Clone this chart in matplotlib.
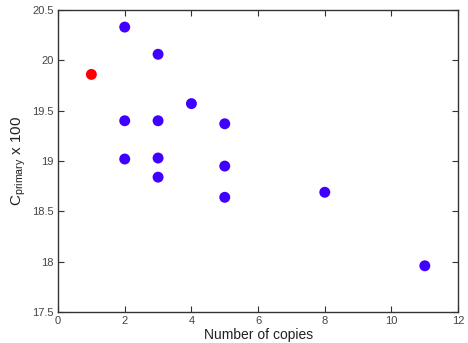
import matplotlib
matplotlib.use("Agg")
import matplotlib.pyplot as plt

plt.rcParams['font.family'] = ['Liberation Sans', 'DejaVu Sans']
plt.rcParams['mathtext.fontset'] = 'custom'
plt.rcParams['mathtext.rm'] = 'Liberation Sans'

# blue points
copies = [2, 2, 2, 3, 3, 3, 3, 4, 5, 5, 5, 8, 11]
c_primary = [20.33, 19.40, 19.02, 20.06, 19.40, 19.03, 18.84, 19.57, 19.37, 18.95, 18.64, 18.69, 17.96]
# red (single copy) point
red_copies = [1]
red_c = [19.86]

fig = plt.figure(figsize=(4.68, 3.43), dpi=100)
ax = fig.add_axes([0.124, 0.09, 0.855, 0.881])

ax.scatter(copies, c_primary, s=62, color='#4000ff', edgecolors='none', zorder=3)
ax.scatter(red_copies, red_c, s=62, color='#ff0000', edgecolors='none', zorder=3)

ax.set_xlim(0, 12)
ax.set_ylim(17.5, 20.5)
ax.set_xticks([0, 2, 4, 6, 8, 10, 12])
ax.set_yticks([17.5, 18, 18.5, 19, 19.5, 20, 20.5])
ax.set_yticklabels(['17.5', '18', '18.5', '19', '19.5', '20', '20.5'])
ax.tick_params(direction='in', top=True, right=True, length=4, width=0.8,
               labelsize=8, colors='#333333', labelcolor='#444444', pad=3)
for sp in ax.spines.values():
    sp.set_color('#333333')
    sp.set_linewidth(1.0)

ax.set_xlabel('Number of copies', fontsize=10, color='#222222', labelpad=1)
ax.set_ylabel(r'C$_{\mathrm{primary}}$ x 100', fontsize=11, color='#222222', labelpad=3)

fig.savefig('out.png', dpi=100)
